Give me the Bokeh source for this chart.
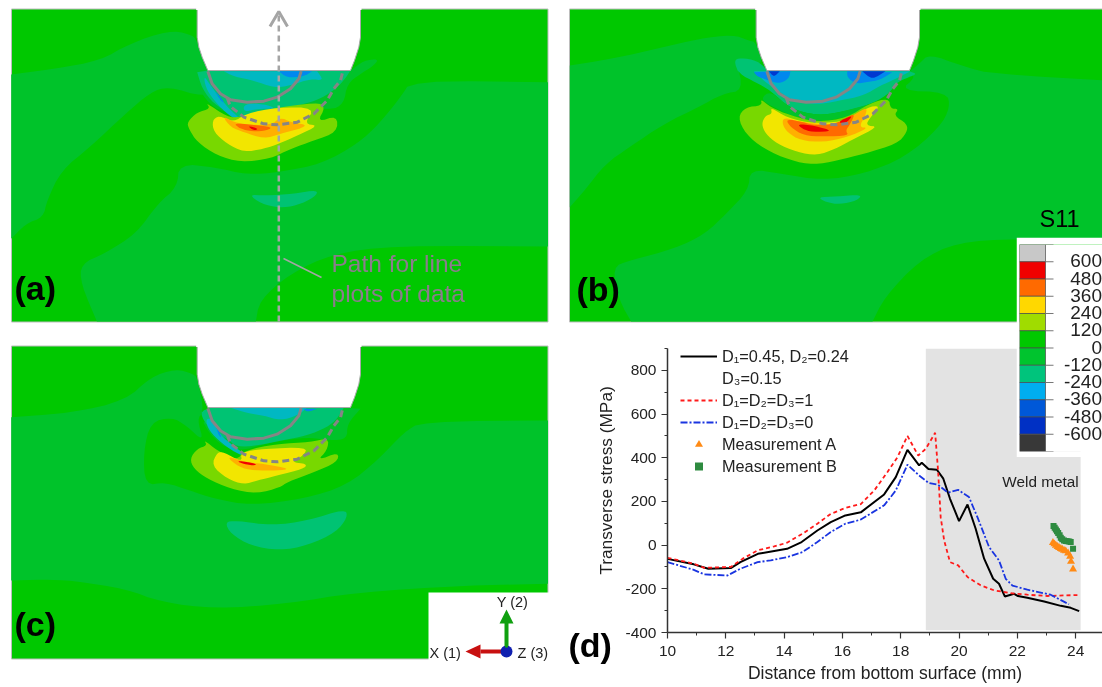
from math import pi
from bokeh.plotting import figure
from bokeh.embed import file_html
from bokeh.resources import INLINE
from bokeh.models import Range1d, FixedTicker, Legend, LegendItem
from bokeh.core.properties import value

# ---------- chart (d) values ----------
black_x = [10,10.9,11.4,12.17,12.5,13.1,13.66,14.1,14.6,15.14,15.6,16.1,16.63,17.43,17.83,18.23,18.63,18.72,18.95,19.24,19.46,19.69,20.0,20.29,20.57,20.86,21.17,21.37,21.57,21.89,22.02,22.34,22.92,23.49,23.83,24.12]
black_y = [-63,-88,-108,-105,-78,-40,-27,-17,14,67,105,136,150,232,311,436,365,377,348,345,304,212,110,186,75,-62,-154,-177,-235,-223,-233,-241,-258,-278,-287,-302]
red_x = [10,10.9,11.26,12.17,12.57,13.09,13.66,14.1,14.63,15.14,15.6,16.1,16.63,17.09,17.54,17.89,18.23,18.6,18.86,19.18,19.28,19.37,19.49,19.69,19.97,20.29,20.74,21.2,21.77,22.34,23.03,23.6,24.06]
red_y = [-58,-85,-104,-100,-63,-24,-6,11,52,98,143,170,188,250,334,403,500,410,441,514,342,128,21,-78,-93,-146,-184,-207,-220,-227,-233,-230,-229]
blue_x = [10,10.9,11.26,12.06,12.5,13.09,13.54,14.1,14.63,15.14,15.6,16.1,16.63,17.43,17.83,18.23,18.63,18.95,19.28,19.62,19.97,20.34,20.63,21.03,21.37,21.6,21.83,22.34,23.14,23.77]
blue_y = [-78,-113,-134,-139,-108,-78,-70,-55,-32,14,60,98,117,182,250,368,319,285,276,240,253,220,128,-9,-70,-154,-185,-204,-227,-271]
meas_a_x = [23.22,23.27,23.32,23.38,23.43,23.49,23.54,23.60,23.66,23.74,23.81,23.84,23.91]
meas_a_y = [11,5,-1,-7,-12,-16,-20,-24,-27,-37,-52,-75,-110]
meas_b_x = [23.24,23.28,23.32,23.36,23.40,23.45,23.49,23.54,23.60,23.66,23.72,23.78,23.83,23.91]
meas_b_y = [87,80,72,63,55,45,34,27,21,19,18,16,14,-17]
series_labels = ["D₁=0.45, D₂=0.24", "D₃=0.15", "D₁=D₂=D₃=1", "D₁=D₂=D₃=0", "Measurement A", "Measurement B"]
x_major = [10,12,14,16,18,20,22,24]
y_major = [-400,-200,0,200,400,600,800]
weld_x = [18.86, 24.17]
weld_y = [-390, 900]

# ---------- S11 colour legend ----------
s11_levels = [720,600,480,360,240,120,0,-120,-240,-360,-480,-600,-720]
s11_labels = ["600","480","360","240","120","0","-120","-240","-360","-480","-600"]
s11_colors = ["#C8C8C8","#F00000","#FF6A00","#FFD800","#A0DC00","#00C800","#00C42E","#00C47C","#00AEEF","#0058D8","#0030C4","#383838"]

# ---------- contour fields (outlines) ----------
C_BRIGHT, C_DARK, C_TEAL, C_CYAN, C_BLUE, C_DEEP = "#00C800", "#00C32A", "#00C373", "#00B8C2", "#0088EE", "#0038D0"
C_LIME, C_YEL, C_AMB, C_ORG, C_RED = "#78D800", "#F2E600", "#FFB000", "#FF6A00", "#F00000"

a_bg = [
 (C_DARK, [(30,222),(150,205),(280,180),(360,130),(470,90),(530,100),(552,120),(600,260),(570,290),(470,258),(420,275),(350,340),(250,440),(170,510),(130,600),(120,650),(70,670),(30,715)]),
 (C_DARK, [(500,490),(495,560),(440,610),(380,700),(290,760),(225,790),(225,850),(270,963),(715,963),(725,900),(810,820),(930,760),(1100,735),(1533,738),(1533,245),(1150,240),(1120,290),(1060,370),(1000,430),(900,490),(780,515),(690,523),(600,500)]),
 (C_TEAL, [(695,582),(740,585),(820,580),(890,568),(880,590),(830,615),(780,622),(730,610)]),
]
a_hot = [
 (C_DARK, [(195,195),(232,210),(660,210),(700,180),(745,175),(730,195),(690,220),(650,250),(640,310),(600,330),(420,310),(280,340),(225,300),(195,240)]),
 (C_TEAL, [(200,215),(232,210),(660,210),(640,240),(610,270),(560,300),(480,320),(400,340),(340,370),(300,340),(250,310),(215,265)]),
 (C_CYAN, [(280,212),(560,212),(580,240),(540,235),(480,255),(430,262),(370,240),(310,228)]),
 (C_CYAN, [(220,225),(240,255),(290,320),(340,365),(300,350),(250,300),(225,260)]),
 (C_CYAN, [(340,310),(400,310),(440,325),(380,325),(340,335)]),
 (C_BLUE, [(445,212),(545,212),(520,228),(470,232)]),
 (C_BLUE, [(250,265),(285,310),(270,300)]),
 (C_LIME, [(170,365),(200,335),(240,325),(225,305),(290,350),(330,350),(420,325),(560,305),(585,320),(560,365),(620,345),(620,395),(550,420),(480,445),(420,475),(330,485),(260,465),(200,425),(175,385)]),
 (C_YEL, [(245,360),(265,345),(310,365),(345,340),(440,320),(555,322),(520,370),(565,375),(500,405),(445,430),(400,445),(340,455),(290,430),(250,395)]),
 (C_AMB, [(275,345),(320,370),(420,375),(450,350),(480,365),(540,375),(450,400),(400,415),(340,395),(300,380)]),
 (C_ORG, [(310,368),(360,372),(430,380),(400,392),(355,392),(325,382)]),
 (C_RED, [(350,375),(385,385),(370,390)]),
]
b_bg = [
 (C_DARK, [(27,195),(150,175),(300,140),(400,115),(500,102),(545,120),(568,125),(590,200),(510,180),(530,270),(470,280),(400,320),(300,370),(200,440),(130,490),(70,570),(27,620)]),
 (C_DARK, [(550,505),(545,570),(480,640),(420,700),(330,745),(200,780),(150,800),(170,900),(205,963),(905,963),(940,890),(1040,780),(1150,725),(1320,715),(1580,715),(1580,240),(1250,220),(1160,195),(1070,160),(1040,190),(1010,215),(1030,230),(985,270),(1120,275),(1130,320),(1100,380),(1000,470),(880,520),(760,540),(640,520)]),
 (C_TEAL, [(745,590),(800,588),(875,582),(860,600),(810,612),(770,605)]),
]
b_hot = [
 (C_TEAL, [(130,60),(150,52),(200,60),(235,92),(655,92),(680,100),(655,110),(620,125),(590,165),(530,195),(450,215),(380,225),(300,205),(240,150),(195,125),(145,100)]),
 (C_DARK, [(210,175),(240,150),(300,205),(380,225),(450,215),(540,190),(575,180),(540,205),(470,230),(380,245),(300,225),(240,195)]),
 (C_CYAN, [(190,92),(660,92),(610,118),(570,135),(520,165),(440,182),(380,192),(310,182),(260,150),(225,125)]),
 (C_BLUE, [(190,95),(300,92),(295,115),(265,130),(230,118),(200,108)]),
 (C_BLUE, [(470,92),(605,95),(570,118),(530,125),(495,130),(470,110)]),
 (C_DEEP, [(235,92),(268,92),(250,110)]),
 (C_DEEP, [(515,92),(585,92),(545,118)]),
 (C_LIME, [(142,230),(165,200),(215,195),(210,175),(240,200),(300,225),(380,245),(470,232),(535,190),(595,172),(600,205),(625,205),(610,225),(650,250),(650,275),(620,310),(520,340),(440,360),(370,373),(300,360),(220,325),(165,280)]),
 (C_YEL, [(213,250),(225,225),(245,220),(240,200),(290,232),(370,250),(480,240),(530,200),(570,195),(540,230),(525,255),(565,258),(480,300),(435,325),(380,345),(320,335),(260,310),(225,280)]),
 (C_AMB, [(275,250),(280,230),(330,245),(440,255),(495,220),(530,200),(525,225),(505,260),(535,262),(470,290),(400,305),(330,300),(290,275)]),
 (C_ORG, [(285,235),(340,245),(370,255),(440,250),(495,215),(480,250),(465,270),(475,285),(400,288),(340,285),(300,260)]),
 (C_RED, [(320,250),(370,255),(430,272),(365,275),(335,265)]),
 (C_RED, [(440,245),(490,222),(465,250)]),
]
c_bg = [
 (C_DARK, [(30,245),(200,232),(350,195),(420,125),(490,100),(540,115),(552,130),(570,230),(550,250),(570,320),(520,270),(480,245),(420,260),(400,350),(405,450),(460,440),(530,465),(600,490),(700,510),(850,490),(970,450),(1060,370),(1130,290),(1180,258),(1533,255),(1533,745),(1300,750),(1000,770),(800,805),(600,820),(450,800),(350,760),(200,735),(120,732),(30,735)]),
 (C_TEAL, [(628,560),(660,555),(760,570),(860,555),(965,520),(972,545),(940,590),(860,630),(780,645),(700,630),(645,595)]),
]
c_hot = [
 (C_DARK, [(200,95),(640,82),(690,85),(650,130),(650,175),(600,180),(530,170),(420,185),(320,215),(250,180)]),
 (C_TEAL, [(205,95),(240,82),(640,82),(620,115),(590,140),(530,165),(450,180),(380,195),(320,200),(290,175),(240,150)]),
 (C_CYAN, [(300,82),(530,82),(500,105),(450,120),(400,105),(350,98)]),
 (C_CYAN, [(225,115),(245,115),(265,160),(320,205),(350,225),(330,225),(275,190),(235,150)]),
 (C_BLUE, [(258,135),(275,175),(262,160)]),
 (C_BLUE, [(520,85),(560,85),(530,95)]),
 (C_LIME, [(178,235),(200,205),(230,195),(220,178),(260,210),(320,240),(340,210),(440,190),(540,185),(595,172),(590,210),(560,240),(625,215),(620,245),(550,275),(470,305),(450,320),(380,340),(300,325),(230,295),(190,265)]),
 (C_YEL, [(243,255),(260,215),(280,215),(335,245),(330,215),(400,205),(530,200),(520,225),(480,245),(530,250),(520,265),(440,285),(380,300),(340,312),(290,295)]),
 (C_AMB, [(285,225),(345,245),(400,250),(480,265),(440,270),(370,270),(325,260)]),
 (C_RED, [(320,240),(380,250),(370,256),(330,248)]),
]
notch = [(200,25),(200,110),(205,140),(215,170),(232,210),(660,210),(672,180),(685,140),(690,110),(690,25)]
weld_arc = [(232,212),(245,250),(270,280),(300,298),(350,305),(400,302),(440,290),(480,265),(505,235),(512,212)]
fusion_arc = [(290,292),(300,318),(340,350),(400,370),(440,373),(500,365),(550,340),(590,300),(610,265),(630,240),(637,212)]

def conv(pts, x0, y0, sx, sy):
    return [x0 + q[0] / sx for q in pts], [y0 + q[1] / sy for q in pts]

def soften(xs, ys, held, rounds=2):
    # rounds the drawn corners of a contour outline; vertices on a panel edge or on the notch floor stay put
    pts = list(zip(xs, ys))
    for _ in range(rounds):
        out = []
        for i, a in enumerate(pts):
            b = pts[(i + 1) % len(pts)]
            out.append(a if held(a) else (0.75 * a[0] + 0.25 * b[0], 0.75 * a[1] + 0.25 * b[1]))
            out.append(b if held(b) else (0.25 * a[0] + 0.75 * b[0], 0.25 * a[1] + 0.75 * b[1]))
        pts = out
    return [q[0] for q in pts], [q[1] for q in pts]

def place(left, top, w, h):
    return {"position": "absolute", "left": f"{left}px", "top": f"{top}px", "width": f"{w}px", "height": f"{h}px",
            "filter": "blur(0.5px)"}

# ---------- base layer with the three contour panels ----------
p = figure(width=1102, height=687, x_range=Range1d(0, 1102), y_range=Range1d(687, 0),
           toolbar_location=None, output_backend="svg", min_border=0,
           x_axis_location=None, y_axis_location=None, outline_line_alpha=0,
           styles=place(0, 0, 1102, 687))
p.grid.visible = False

panels = [
    dict(box=(11, 8.5, 547.5, 321.5), off=(0, 0), bg=a_bg, bgf=(0, 0, 2.8, 3), hot=a_hot),
    dict(box=(569, 8.5, 1102, 321.5), off=(559, 0), bg=b_bg, bgf=(560, 0, 2.9, 3), hot=b_hot, hotf=(690, 40, 3, 3)),
    dict(box=(11, 345.5, 547.5, 658.5), off=(0, 337), bg=c_bg, bgf=(0, 335, 2.8, 3), hot=c_hot, hotf=(130, 380, 3, 3)),
]
for pn in panels:
    l, t, r, b = pn["box"]
    ox, oy = pn["off"]
    def held(q, l=l, t=t, r=r, b=b, oy=oy):
        return (q[0] <= l + 1 or q[0] >= r - 1 or q[1] >= b - 1 or q[1] <= t + 1
                or abs(q[1] - (oy + 70.5)) < 1.5)
    p.quad(left=[l], right=[r], top=[t], bottom=[b], fill_color=C_BRIGHT, line_color="#BDBDBD", line_width=1)
    for col, pts in pn["bg"]:
        xs, ys = soften(*conv(pts, *pn["bgf"]), held)
        p.patch(xs, ys, fill_color=col, line_color=None)
    hf = pn.get("hotf", (130, 0, 3, 3))
    for col, pts in pn["hot"]:
        xs, ys = soften(*conv(pts, *hf), held)
        p.patch(xs, ys, fill_color=col, line_color=None)
    xs, ys = conv(notch, 130 + ox, oy, 3, 3)
    p.patch(xs, ys, fill_color="#FFFFFF", line_color="#A8A8A8", line_width=1)
    p.quad(left=[xs[0] - 1], right=[xs[-1] + 1], top=[t - 2], bottom=[t + 1], fill_color="#FFFFFF", line_color=None)
    xs, ys = conv(weld_arc, 130 + ox, oy, 3, 3)
    p.line(xs, ys, line_color="#858585", line_width=3, line_join="round")
    xs, ys = conv(fusion_arc, 130 + ox, oy, 3, 3)
    p.line(xs, ys, line_color="#858585", line_width=3, line_dash="7 4")

# white box of the triad, path arrow, leader line
p.quad(left=[428], right=[549], top=[592], bottom=[660], fill_color="#FFFFFF", line_color=None)
p.line([278.3, 278.3], [321, 13], line_color="#A5A5A5", line_width=2.5, line_dash="6 4")
p.line([269.5, 278.3, 287], [26, 11, 26], line_color="#A5A5A5", line_width=3)
p.line([283, 321], [258, 277], line_color="#A5A5A5", line_width=1.5)

def txt(f, x, y, s, size, color="#000000", style="normal", align="left", alpha=1.0, angle=0):
    f.text([x], [y], text=[s], text_font=value("Liberation Sans"), text_font_size=size, text_color=color,
           text_font_style=style, text_align=align, text_baseline="middle", text_alpha=alpha, angle=angle)

txt(p, 331, 263, "Path for line", "24.5px", "#8C7C8C")
txt(p, 331, 293, "plots of data", "24.5px", "#8C7C8C")
txt(p, 14, 287, "(a)", "34px", style="bold")
txt(p, 576, 288, "(b)", "34px", style="bold")
txt(p, 14, 623, "(c)", "34px", style="bold")
txt(p, 568, 644, "(d)", "34px", style="bold")
txt(p, 1059, 218, "S11", "23.5px", align="center")
txt(p, 605.7, 480, "Transverse stress (MPa)", "17.3px", "#222222", align="center", angle=pi / 2)

# triad
p.line([506, 506], [650, 622], line_color="#10A010", line_width=4)
p.patch([499, 513, 506], [623, 623, 609], fill_color="#10A010", line_color=None)
p.line([506, 480], [651, 651], line_color="#C81010", line_width=4)
p.patch([480, 480, 465], [644, 658, 651], fill_color="#C81010", line_color=None)
p.scatter([506], [651], size=12, fill_color="#1020B0", line_color=None)
p.line([506, 506], [647, 640], line_color="#10A010", line_width=3)
txt(p, 512, 601, "Y (2)", "14.5px", "#222222", align="center")
txt(p, 429, 652, "X (1)", "14.5px", "#222222")
txt(p, 517, 652, "Z (3)", "14.5px", "#222222")

# ---------- chart (d) ----------
d = figure(width=542, height=347, x_range=Range1d(10, 24.92), y_range=Range1d(-400, 900),
           toolbar_location=None, output_backend="svg", min_border_left=107, min_border_right=0,
           min_border_top=8, min_border_bottom=55, outline_line_alpha=0,
           background_fill_alpha=0, border_fill_alpha=0,
           x_axis_label="Distance from bottom surface (mm)",
           styles=place(560, 340, 542, 347))
d.grid.visible = False
d.xaxis.ticker = FixedTicker(ticks=x_major, minor_ticks=[11,13,15,17,19,21,23])
d.yaxis.ticker = FixedTicker(ticks=y_major, minor_ticks=[-300,-100,100,300,500,700,900])
d.yaxis[0].major_label_overrides = {v: str(v) for v in y_major}
for ax in (d.xaxis[0], d.yaxis[0]):
    ax.axis_line_color = "#333333"
    ax.axis_line_width = 1.5
    ax.major_tick_line_color = "#333333"
    ax.major_tick_line_width = 1.2
    ax.minor_tick_line_color = "#333333"
    ax.major_tick_in = 0
    ax.major_tick_out = 6
    ax.minor_tick_in = 0
    ax.minor_tick_out = 3
    ax.major_label_text_font = "Liberation Sans"
    ax.major_label_text_font_size = "15.5px"
    ax.major_label_text_color = "#222222"
    ax.axis_label_text_font = "Liberation Sans"
    ax.axis_label_text_font_size = "17.5px"
    ax.axis_label_text_font_style = "normal"
    ax.axis_label_text_color = "#222222"
d.xaxis[0].major_label_standoff = 7
d.yaxis[0].major_label_standoff = 5
d.xaxis[0].axis_label_standoff = 4

d.quad(left=[weld_x[0]], right=[weld_x[1]], bottom=[weld_y[0]], top=[weld_y[1]], fill_color="#E3E3E3", line_color=None)
r_black = d.line(black_x, black_y, line_color="#000000", line_width=2)
r_red = d.line(red_x, red_y, line_color="#FF1A1A", line_width=1.8, line_dash="4 3")
r_blue = d.line(blue_x, blue_y, line_color="#1A35E0", line_width=1.8, line_dash="7 2 2 2")
r_a = d.scatter(meas_a_x, meas_a_y, marker="triangle", size=8, fill_color="#FF8A14", line_color=None)
r_b = d.scatter(meas_b_x, meas_b_y, marker="square", size=6, fill_color="#2E8B40", line_color=None)
r_none = d.line([10, 10], [0, 0], line_alpha=0)
d.text([24.1], [293], text=["Weld metal"], text_font=value("Liberation Sans"), text_font_size="15.3px",
       text_align="right", text_baseline="middle", text_color="#222222")

legend = Legend(items=[LegendItem(label=s_, renderers=[r]) for s_, r in
                       zip(series_labels, [r_black, r_none, r_red, r_blue, r_a, r_b])],
                location=(13, 156), orientation="vertical", padding=0, margin=0, spacing=2,
                glyph_width=37, glyph_height=20, label_height=20, label_standoff=5,
                background_fill_alpha=0, border_line_alpha=0,
                label_text_font="Liberation Sans", label_text_font_size="16.3px", label_text_color="#222222")
d.add_layout(legend)

# ---------- S11 colour legend ----------
s = figure(width=86, height=220, x_range=Range1d(0, 83), y_range=Range1d(s11_levels[-1], s11_levels[0]),
           toolbar_location=None, output_backend="svg", min_border_left=3, min_border_right=0,
           min_border_top=7, min_border_bottom=6, x_axis_location=None, y_axis_location=None,
           outline_line_alpha=0, background_fill_color="#FFFFFF", border_fill_color="#FFFFFF",
           styles=place(1016, 237, 86, 220))
s.grid.visible = False
s.quad(left=0, right=26, top=s11_levels[:-1], bottom=s11_levels[1:], fill_color=s11_colors,
       line_color="#4A4A4A", line_width=0.7)
s.segment(x0=26, x1=34, y0=s11_levels, y1=s11_levels, line_color="#777777", line_width=1)
s.text(x=82.5, y=s11_levels[1:-1], text=s11_labels, text_font=value("Liberation Sans"), text_font_size="19px",
       text_align="right", text_baseline="middle", text_color="#222222", y_offset=-1)

open("out.html", "w").write(file_html([p, d, s], INLINE))
